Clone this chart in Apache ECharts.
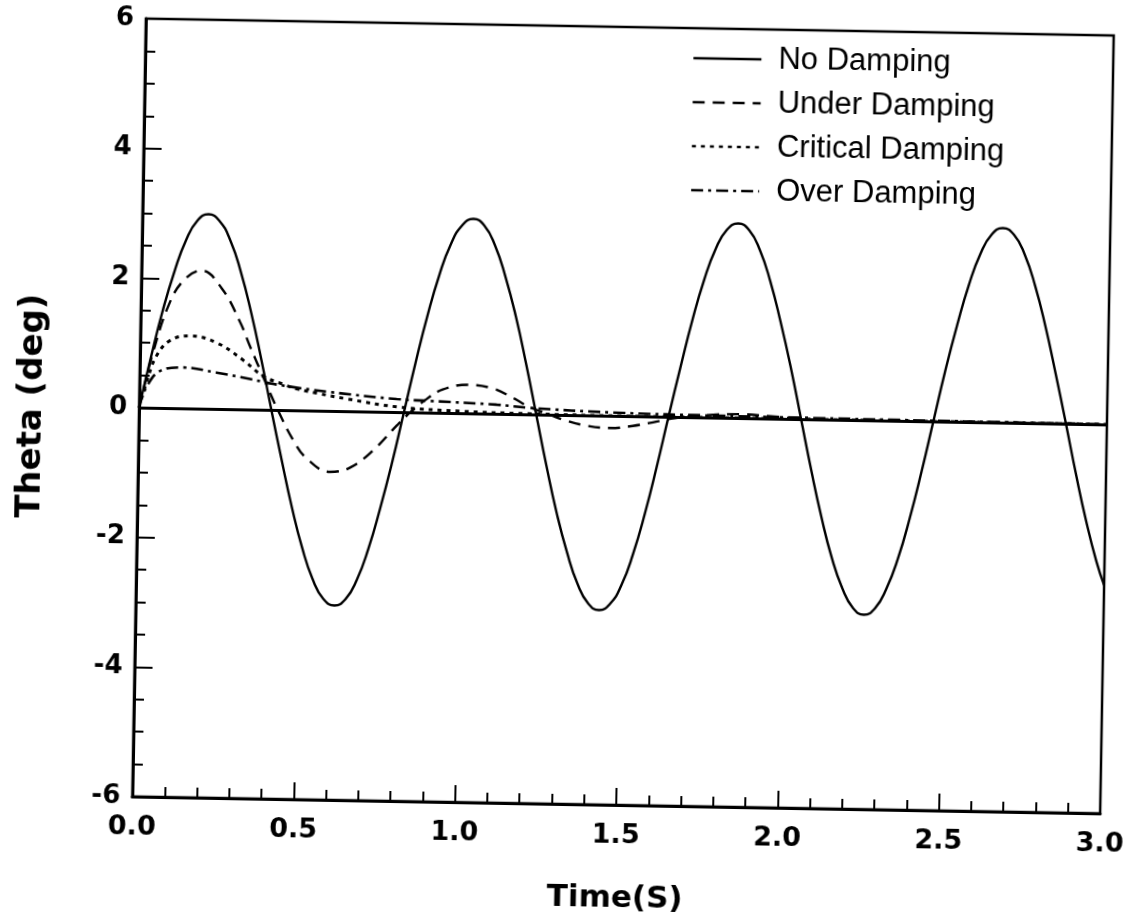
<!DOCTYPE html>
<html>
<head>
<meta charset="utf-8">
<title>Theta vs Time</title>
<script src="https://cdn.jsdelivr.net/npm/echarts/dist/echarts.min.js"></script>
<style>
    html, body { margin: 0; padding: 0; background: #fff; overflow: hidden; }
    /* the scanned original sits about one degree off square */
    #chart { width: 1134px; height: 922px; transform: rotate(1deg); transform-origin: 623px 416px; }
</style>
</head>
<body>
<div id="chart"></div>
<script>
var seriesNames = ['No Damping', 'Under Damping', 'Critical Damping', 'Over Damping'];

// No Damping: times (s) and theta (deg)
var noDampTime = [
    0.000, 0.034, 0.068, 0.103, 0.137, 0.171, 0.205, 0.239, 0.274, 0.308, 0.342, 0.376,
    0.410, 0.445, 0.479, 0.513, 0.547, 0.581, 0.616, 0.650, 0.684, 0.718, 0.752, 0.787,
    0.821, 0.855, 0.889, 0.923, 0.957, 0.992, 1.026, 1.060, 1.094, 1.128, 1.163, 1.197,
    1.231, 1.265, 1.299, 1.334, 1.368, 1.402, 1.436, 1.470, 1.505, 1.539, 1.573, 1.607,
    1.641, 1.676, 1.710, 1.744, 1.778, 1.812, 1.847, 1.881, 1.915, 1.949, 1.983, 2.018,
    2.052, 2.086, 2.120, 2.154, 2.189, 2.223, 2.257, 2.291, 2.325, 2.360, 2.394, 2.428,
    2.462, 2.496, 2.531, 2.565, 2.599, 2.633, 2.667, 2.702, 2.736, 2.770, 2.804, 2.838,
    2.873, 2.907, 2.941, 2.975, 3.000
];
var noDampTheta = [
    0, 0.78, 1.5, 2.12, 2.6, 2.9, 3.0, 2.9, 2.6, 2.12, 1.5, 0.78,
    0, -0.78, -1.5, -2.12, -2.6, -2.9, -3.0, -2.9, -2.6, -2.12, -1.5, -0.78,
    0, 0.78, 1.5, 2.12, 2.6, 2.9, 3.0, 2.9, 2.6, 2.12, 1.5, 0.78,
    0, -0.78, -1.5, -2.12, -2.6, -2.9, -3.0, -2.9, -2.6, -2.12, -1.5, -0.78,
    0, 0.78, 1.5, 2.12, 2.6, 2.9, 3.0, 2.9, 2.6, 2.12, 1.5, 0.78,
    0, -0.78, -1.5, -2.12, -2.6, -2.9, -3.0, -2.9, -2.6, -2.12, -1.5, -0.78,
    0, 0.78, 1.5, 2.12, 2.6, 2.9, 3.0, 2.9, 2.6, 2.12, 1.5, 0.78,
    0, -0.78, -1.5, -2.12, -2.48
];

// [time (s), theta (deg)]
var underDamping = [
    [0, 0], [0.02, 0.44], [0.04, 0.85], [0.084, 1.56], [0.129, 1.96], [0.187, 2.13],
    [0.25, 1.86], [0.308, 1.35], [0.34, 0.98], [0.388, 0.45], [0.43, 0], [0.478, -0.45],
    [0.522, -0.74], [0.595, -0.94], [0.657, -0.87], [0.727, -0.6], [0.799, -0.21], [0.83, -0.05],
    [0.891, 0.21], [0.94, 0.36], [1.018, 0.44], [1.095, 0.39], [1.158, 0.25], [1.211, 0.11],
    [1.273, 0], [1.326, -0.09], [1.388, -0.16], [1.46, -0.19], [1.531, -0.15], [1.593, -0.09],
    [1.66, -0.02], [1.75, 0.03], [1.86, 0.06], [1.97, 0.03], [2.08, 0], [2.3, -0.01],
    [2.6, 0], [3.0, 0]
];

var criticalDamping = [
    [0, 0], [0.025, 0.45], [0.051, 0.8], [0.092, 1.04], [0.154, 1.12], [0.237, 1.02],
    [0.32, 0.76], [0.382, 0.52], [0.445, 0.4], [0.487, 0.33], [0.55, 0.27], [0.643, 0.19],
    [0.8, 0.08], [1.0, 0.03], [1.2, 0.01], [1.5, 0], [3.0, 0]
];

var overDamping = [
    [0, 0], [0.02, 0.3], [0.063, 0.57], [0.134, 0.63], [0.238, 0.56], [0.342, 0.47],
    [0.414, 0.4], [0.591, 0.29], [0.798, 0.2], [0.901, 0.18], [1.108, 0.14], [1.211, 0.1],
    [1.47, 0.05], [1.8, 0.03], [2.09, 0.02], [2.5, 0.01], [3.0, 0]
];

var zeroLevel = 0;

var boldFont = 'DejaVu Sans';
var legendFont = 'Liberation Sans';

function makeSeries(name, data, dash, width, smooth) {
    return {
        name: name,
        type: 'line',
        data: data,
        symbol: 'none',
        smooth: smooth,
        animation: false,
        emphasis: { disabled: true },
        itemStyle: { color: '#000' },
        lineStyle: { color: '#000', width: width, type: dash }
    };
}

var noDamping = _zip(noDampTime, noDampTheta);

function _zip(a, b) {
    var out = [];
    for (var i = 0; i < a.length; i++) {
        out.push([a[i], b[i]]);
    }
    return out;
}

var series = [
    makeSeries(seriesNames[0], noDamping, 'solid', 2.4, true),
    makeSeries(seriesNames[1], underDamping, [12, 8], 2.4, 0.4),
    makeSeries(seriesNames[2], criticalDamping, [4, 5], 3, 0.4),
    makeSeries(seriesNames[3], overDamping, [12, 5, 3, 5], 2.6, 0.4)
];

series[0].markLine = {
    silent: true,
    symbol: 'none',
    animation: false,
    label: { show: false },
    lineStyle: { color: '#000', width: 3, type: 'solid' },
    data: [{ yAxis: zeroLevel }]
};

var options = {
    backgroundColor: '#fff',
    animation: false,
    grid: {
        left: 139,
        right: 27,
        top: 27,
        bottom: 117,
        show: true,
        borderColor: '#000',
        borderWidth: 2.5,
        backgroundColor: 'transparent'
    },
    legend: {
        data: seriesNames,
        orient: 'vertical',
        left: 686,
        top: 40,
        padding: 0,
        itemWidth: 68,
        itemHeight: 14,
        itemGap: 10,
        selectedMode: false,
        itemStyle: { opacity: 0 },
        lineStyle: { width: 2.4 },
        textStyle: {
            color: '#000',
            fontFamily: legendFont,
            fontSize: 31,
            lineHeight: 34,
            padding: [0, 0, 0, 12]
        }
    },
    xAxis: {
        type: 'value',
        min: 0,
        max: 3,
        interval: 0.5,
        name: 'Time(S)',
        nameLocation: 'middle',
        nameGap: 78,
        nameTextStyle: { color: '#000', fontFamily: boldFont, fontWeight: 'bold', fontSize: 31 },
        axisLine: { show: true, onZero: false, lineStyle: { color: '#000', width: 3 } },
        axisTick: { show: true, inside: true, length: 17, lineStyle: { color: '#000', width: 2 } },
        minorTick: { show: true, splitNumber: 5, length: 10, lineStyle: { color: '#000', width: 2 } },
        splitLine: { show: false },
        minorSplitLine: { show: false },
        axisLabel: {
            color: '#000',
            fontFamily: boldFont,
            fontWeight: 'bold',
            fontSize: 27,
            margin: 17,
            formatter: function (v) { return v.toFixed(1); }
        }
    },
    yAxis: {
        type: 'value',
        min: -6,
        max: 6,
        interval: 2,
        name: 'Theta (deg)',
        nameLocation: 'middle',
        nameGap: 90,
        nameTextStyle: { color: '#000', fontFamily: boldFont, fontWeight: 'bold', fontSize: 34 },
        axisLine: { show: true, onZero: false, lineStyle: { color: '#000', width: 3 } },
        axisTick: { show: true, inside: true, length: 18, lineStyle: { color: '#000', width: 2 } },
        minorTick: { show: true, splitNumber: 4, length: 10, lineStyle: { color: '#000', width: 2 } },
        splitLine: { show: false },
        minorSplitLine: { show: false },
        axisLabel: {
            color: '#000',
            fontFamily: boldFont,
            fontWeight: 'bold',
            fontSize: 26,
            margin: 12
        }
    },
    series: series
};

var chartObj = echarts.init(document.getElementById('chart'));
chartObj.setOption(options);
</script>
</body>
</html>
